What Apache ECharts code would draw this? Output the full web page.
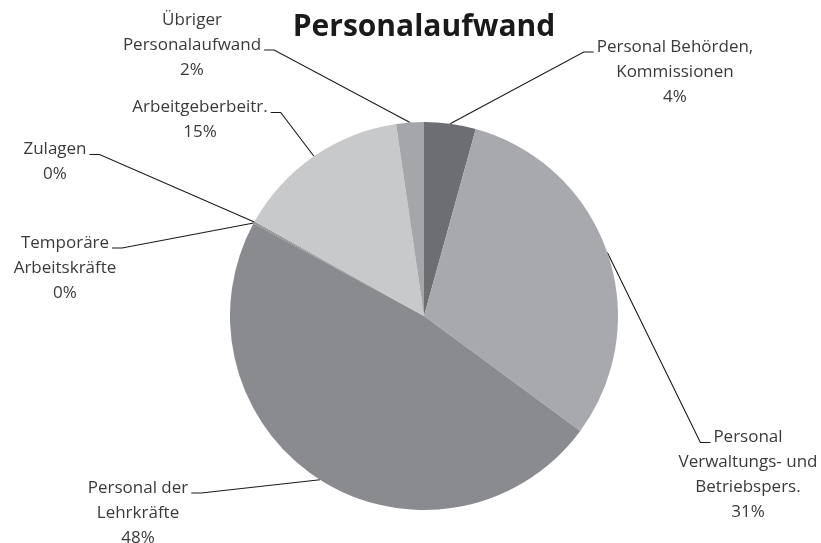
<!DOCTYPE html>
<html><head><meta charset="utf-8">
<script src="https://cdn.jsdelivr.net/npm/echarts@6/dist/echarts.min.js"></script>
<style>html,body{margin:0;padding:0;background:#fff}#c{width:821px;height:543px}</style>
</head><body><div id="c"></div>
<script>
var categories = ['Personal Behörden,\nKommissionen','Personal\nVerwaltungs- und\nBetriebspers.','Personal der\nLehrkräfte','Temporäre\nArbeitskräfte','Zulagen','Arbeitgeberbeitr.','Übriger\nPersonalaufwand'];
var values = [4.3, 30.8, 47.8, 0.1, 0.1, 14.6, 2.3];
var colors = ['#6d6e72','#a8a9ad','#8a8b8f','#8a8b8f','#8a8b8f','#c8c9cb','#a5a6a9'];
var labelPos = [[675,72],[748,475],[138,513],[65,268],[55,162],[200,120],[192,45]];
var anchorLine = [0,0,0,0,0,0,1];

var FONT_SIZE = 17, LINE_H = 25, FONT_FAMILY = 'Open Sans';
var cx = 424, cy = 316;
var measureCtx = document.createElement('canvas').getContext('2d');
measureCtx.font = FONT_SIZE + 'px "' + FONT_FAMILY + '"';

function pctText(i){
  var tot = values.reduce(function(a,b){return a+b;},0);
  return Math.round(values[i]/tot*100) + '%';
}

var chart = echarts.init(document.getElementById('c'));
chart.setOption({
  animation:false,
  title:{text:'Personalaufwand',left:cx-5,top:7,textAlign:'center',
    textStyle:{fontFamily:'Open Sans',fontWeight:'bold',fontSize:30,color:'#1a1a1a'}},
  series:[{
    type:'pie',
    center:[cx,cy],
    radius:194,
    startAngle:90,
    clockwise:true,
    avoidLabelOverlap:false,
    data:categories.map(function(c,i){return {name:c,value:values[i],itemStyle:{color:colors[i]}};}),
    label:{show:true,fontFamily:FONT_FAMILY,fontSize:FONT_SIZE,lineHeight:LINE_H,color:'#3a3a3a',align:'center',
      formatter:function(p){return p.name+'\n'+pctText(p.dataIndex);}},
    labelLine:{show:true,lineStyle:{color:'#1a1a1a',width:1.1},length:10,length2:10},
    labelLayout:function(p){
      var i = p.dataIndex;
      var q = labelPos[i];
      var lines = (categories[i] + '\n' + pctText(i)).split('\n');
      var n = lines.length;
      var k = anchorLine[i];
      var w = measureCtx.measureText(lines[k]).width;
      var ly = q[1] - (n-1)*LINE_H/2 + k*LINE_H + 5;
      var leftSide = q[0] < cx;
      var endX = leftSide ? q[0] + w/2 + 3 : q[0] - w/2 - 3;
      var turnX = leftSide ? endX + 10 : endX - 10;
      var res = {x:q[0],y:q[1],align:'center',verticalAlign:'middle'};
      if (p.labelLinePoints && p.labelLinePoints.length) {
        res.labelLinePoints = [p.labelLinePoints[0].slice(), [turnX, ly], [endX, ly]];
      }
      return res;
    },
    emphasis:{disabled:true}
  }]
});
</script></body></html>
